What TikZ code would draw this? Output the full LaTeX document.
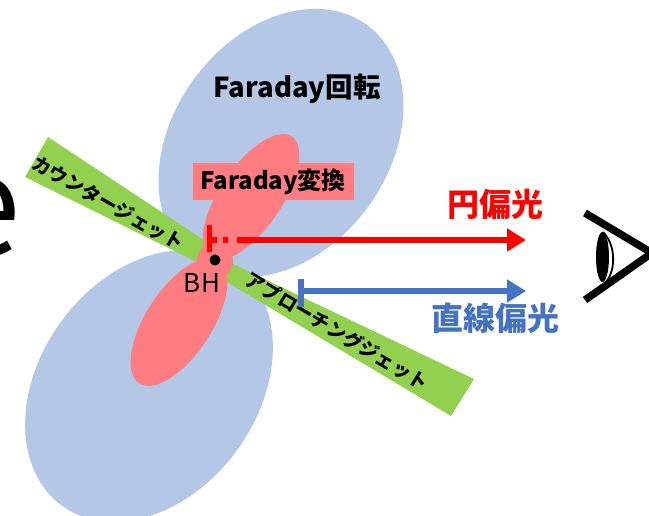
\documentclass[tikz,border=0pt]{standalone}
\usepackage{fontspec}
\newfontfamily\jp{Noto Sans CJK JP}
\usetikzlibrary{shapes.geometric,arrows.meta}
\definecolor{haze}{RGB}{180,199,231}
\definecolor{salmon}{RGB}{255,124,128}
\definecolor{jetgreen}{RGB}{146,208,80}
\definecolor{linblue}{RGB}{68,114,196}
\begin{document}
\begin{tikzpicture}[x=1pt,y=-1pt,
  lobe/.style={ellipse, inner sep=0, fill=haze},
  core/.style={ellipse, inner sep=0, fill=salmon},
  jet/.style={fill=jetgreen},
  jetlabel/.style={font=\jp\bfseries\fontsize{19}{19}\selectfont, inner sep=0},
  title/.style={font=\jp\bfseries\fontsize{#1}{#1}\selectfont, inner sep=0},
  ray/.style={line width=6.5pt, -{Triangle[length=19pt,width=22pt]}},
  bar/.style={line width=5.5pt}]
\clip (0,0) rectangle (649,516);

% large letter at the left edge
\node[font=\jp\fontsize{140}{140}\selectfont, anchor=base east, inner sep=0] (bigE) at (21,256) {e};

% Faraday rotation lobes
\node[lobe, minimum width=292pt, minimum height=216pt, rotate=54] (lobeU) at (281,143) {};
\node[lobe, minimum width=296pt, minimum height=218pt, rotate=54] (lobeL) at (149,386) {};

% jets
\fill[jet] (48,137) -- (25,177) -- (205,266) -- (222,252) -- cycle;
\fill[jet] (214,255) -- (474,379) -- (451,416) -- (212,273) -- cycle;

% Faraday conversion region
\node[core, minimum width=146pt, minimum height=62pt, rotate=56] (coreU) at (251,197) {};
\node[core, minimum width=146pt, minimum height=66pt, rotate=57] (coreL) at (179,322) {};
\node[circle, fill=salmon, inner sep=0, minimum size=36pt] (halo) at (215,261) {};

% labels of the regions
\node[title=27.5] (rot) at (297,89) {Faraday回転};
\node[fill=salmon, minimum width=161pt, minimum height=37pt, inner sep=0] (convbox) at (273.5,181.5) {};
\node[title=24] (conv) at (273,182) {Faraday変換};

% black hole
\node[circle, fill=black, inner sep=0, minimum size=11pt] (bh) at (215,260) {};
\node[font=\jp\fontsize{26}{26}\selectfont, inner sep=0] (bhlabel) at (202,283) {BH};

% jet labels
\node[jetlabel, rotate=-29.5] (counter) at (108,203) {カウンタージェット};
\node[jetlabel, rotate=-31] (approach) at (337,331) {アプローチングジェット};

% polarised light rays
\coordinate (rs) at (209.5,240);
\coordinate (rt) at (526,240);
\coordinate (bs) at (301,291);
\coordinate (bt) at (526,291);
\draw[ray, red, dash pattern=on 7.5pt off 6pt on 5pt off 9pt on 600pt] (rs) -- (rt);
\draw[bar, red] (rs) ++(0,-15) -- ++(0,27);
\draw[ray, linblue] (bs) -- (bt);
\draw[bar, linblue] (bs) ++(0,-12) -- ++(0,28);
\node[title=32, text=red] (circ) at (495,204) {円偏光};
\node[title=32, text=linblue] (lin) at (495,318) {直線偏光};

% observer
\coordinate (lidA) at (585,213);
\coordinate (apex) at (652,253);
\coordinate (lidB) at (585,300);
\draw[line width=7.5pt] (lidA) -- (apex) -- (lidB);
\node[ellipse, fill=black, inner sep=0, minimum width=13pt, minimum height=50pt] (pupil) at (602.5,257) {};
\draw[line width=1.8pt] (603,232) .. controls (616,245) and (616,270) .. (606,282);
\end{tikzpicture}
\end{document}
